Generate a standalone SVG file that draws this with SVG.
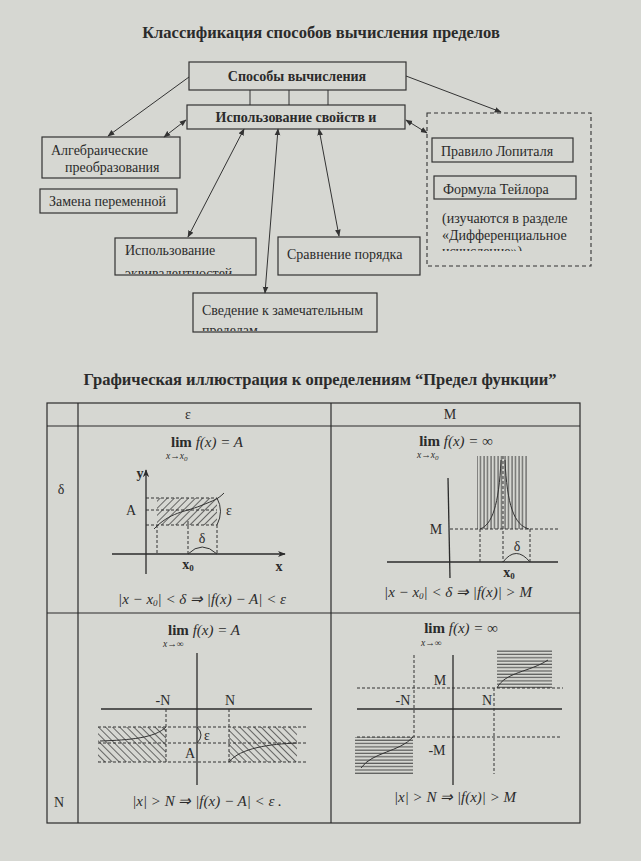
<svg xmlns="http://www.w3.org/2000/svg" width="641" height="861" viewBox="0 0 641 861">
<defs>
<style>
text{font-family:"Liberation Serif","Times New Roman",serif;fill:#2b2b2b}
.t{font-size:16.5px;font-weight:bold;text-anchor:middle}
.b{font-size:14px;font-weight:bold;text-anchor:middle}
.r{font-size:14px}
.f{font-size:15px;font-style:italic;text-anchor:middle}
.lim{font-size:15px;font-weight:bold;font-style:normal}
.sub{font-size:9.5px;font-style:italic}
.lb{font-size:14px;text-anchor:middle}
.lbb{font-size:14px;font-weight:bold;text-anchor:middle}
.box{fill:none;stroke:#333;stroke-width:1.2}
.ln{fill:none;stroke:#333;stroke-width:1}
.ax{fill:none;stroke:#2b2b2b;stroke-width:1.3}
.ds{fill:none;stroke:#333;stroke-width:1;stroke-dasharray:3,2}
.grid{fill:none;stroke:#2b2b2b;stroke-width:1.2}
</style>
<marker id="ah" viewBox="0 0 10 10" refX="9" refY="5" markerWidth="7" markerHeight="7" orient="auto-start-reverse" markerUnits="userSpaceOnUse"><path d="M0,1 L10,5 L0,9 z" fill="#333"/></marker>
<marker id="ax" viewBox="0 0 10 10" refX="9" refY="5" markerWidth="8" markerHeight="8" orient="auto" markerUnits="userSpaceOnUse"><path d="M0,1 L10,5 L0,9 L3,5 z" fill="#2b2b2b"/></marker>
<pattern id="hd1" width="5" height="5" patternUnits="userSpaceOnUse" patternTransform="rotate(45)"><line x1="0" y1="0" x2="0" y2="5" stroke="#333" stroke-width="1.4"/></pattern>
<pattern id="hd2" width="5" height="5" patternUnits="userSpaceOnUse" patternTransform="rotate(-45)"><line x1="0" y1="0" x2="0" y2="5" stroke="#333" stroke-width="1.4"/></pattern>
<pattern id="hv" width="3.5" height="10" patternUnits="userSpaceOnUse"><line x1="1" y1="0" x2="1" y2="10" stroke="#333" stroke-width="0.9"/></pattern>
<pattern id="hh" width="10" height="3.3" patternUnits="userSpaceOnUse"><line x1="0" y1="1" x2="10" y2="1" stroke="#333" stroke-width="0.9"/></pattern>
<clipPath id="c1"><rect x="115" y="238" width="141" height="36"/></clipPath>
<clipPath id="c2"><rect x="193" y="294" width="183" height="37"/></clipPath>
<clipPath id="c3"><rect x="428" y="114" width="162" height="137"/></clipPath>
</defs>
<rect x="0" y="0" width="641" height="861" fill="#d6d7d2"/>

<text class="t" x="321" y="38">Классификация способов вычисления пределов</text>

<g id="connectors">
<line class="ln" x1="250" y1="90" x2="250" y2="105"/>
<line class="ln" x1="289" y1="90" x2="289" y2="105"/>
<line class="ln" x1="328" y1="90" x2="328" y2="105"/>
<line class="ln" x1="189" y1="77" x2="108" y2="136" marker-end="url(#ah)"/>
<line class="ln" x1="186" y1="120" x2="164" y2="137" marker-start="url(#ah)" marker-end="url(#ah)"/>
<line class="ln" x1="244" y1="129" x2="188" y2="237" marker-start="url(#ah)" marker-end="url(#ah)"/>
<line class="ln" x1="278" y1="129" x2="265" y2="293" marker-start="url(#ah)" marker-end="url(#ah)"/>
<line class="ln" x1="319" y1="129" x2="339" y2="236" marker-start="url(#ah)" marker-end="url(#ah)"/>
<line class="ln" x1="406" y1="76" x2="501" y2="112" marker-end="url(#ah)"/>
<line class="ln" x1="406" y1="120" x2="427" y2="133" marker-start="url(#ah)" marker-end="url(#ah)"/>
</g>

<g id="n-methods"><rect class="box" x="189" y="62" width="217" height="28"/><text class="b" x="297" y="81">Способы вычисления</text></g>
<g id="n-props"><rect class="box" x="187" y="105" width="218" height="24"/><text class="b" x="296" y="122">Использование свойств и</text></g>
<g id="n-alg"><rect class="box" x="42" y="137" width="138" height="41"/><text class="r" x="51" y="155">Алгебраические</text><text class="r" x="65" y="172">преобразования</text></g>
<g id="n-subst"><rect class="box" x="40" y="189" width="137" height="24"/><text class="r" x="49" y="206">Замена переменной</text></g>
<g id="n-eqv"><rect class="box" x="115" y="238" width="141" height="37"/><g clip-path="url(#c1)"><text class="r" x="125" y="255">Использование</text><text class="r" x="125" y="278">эквивалентностей</text></g></g>
<g id="n-order"><rect class="box" x="278" y="237" width="142" height="38"/><text class="r" x="287" y="259">Сравнение порядка</text></g>
<g id="n-remark"><rect class="box" x="193" y="293" width="184" height="39"/><g clip-path="url(#c2)"><text class="r" x="202" y="315">Сведение к замечательным</text><text class="r" x="202" y="335">пределам</text></g></g>
<g id="n-diff"><rect x="427" y="113" width="164" height="153" fill="none" stroke="#333" stroke-width="1.1" stroke-dasharray="4,3"/>
<rect class="box" x="432" y="138" width="141" height="24"/><text class="r" x="441" y="156">Правило Лопиталя</text>
<rect class="box" x="434" y="176" width="142" height="23"/><text class="r" x="443" y="194">Формула Тейлора</text>
<g clip-path="url(#c3)"><text class="r" x="442" y="223">(изучаются в разделе</text><text class="r" x="442" y="240">«Дифференциальное</text><text class="r" x="442" y="256">исчисление»)</text></g></g>

<text class="t" x="320" y="385">Графическая иллюстрация к определениям “Предел функции”</text>

<g id="table">
<rect class="grid" x="47" y="403" width="533" height="420"/>
<line class="grid" x1="78" y1="403" x2="78" y2="823"/>
<line class="grid" x1="331" y1="403" x2="331" y2="823"/>
<line class="grid" x1="47" y1="426" x2="580" y2="426"/>
<line class="grid" x1="47" y1="613" x2="580" y2="613"/>
<text class="lb" x="188" y="419">ε</text>
<text class="lb" x="450" y="419">M</text>
<text class="lb" x="61" y="494">δ</text>
<text class="lb" x="59" y="807">N</text>
</g>

<g id="cell-eps-delta">
<text class="f" x="207" y="447"><tspan class="lim">lim</tspan> f(x) = A</text>
<text class="sub" x="166" y="459">x→x<tspan font-size="7" dy="2">0</tspan></text>
<rect x="157" y="498" width="60" height="27" fill="url(#hd1)"/>
<line class="ax" x1="146" y1="574" x2="146" y2="470" marker-end="url(#ax)"/>
<line class="ax" x1="112" y1="554" x2="285" y2="554" marker-end="url(#ax)"/>
<path class="ds" d="M146,498 H217 M146,510 H217 M146,525 H217 M157,525 V554 M188,521 V554 M217,525 V554"/>
<path class="ln" d="M154,529 C170,512 185,512 200,506 S218,499 224,493"/>
<path class="ln" d="M217,498 Q224,511 217,525"/>
<path class="ln" d="M188,554 Q202,540 217,554"/>
<text class="lbb" x="140" y="478">y</text>
<text class="lb" x="131" y="515">A</text>
<text class="lb" x="229" y="515">ε</text>
<text class="lb" x="202" y="543">δ</text>
<text class="lbb" x="188" y="569">x<tspan font-size="9" dy="2">0</tspan></text>
<text class="lbb" x="279" y="571">x</text>
<text class="f" x="202" y="604">|x − x<tspan font-size="9" dy="2">0</tspan><tspan dy="-2">| &lt; δ ⇒ |f(x) − A| &lt; ε</tspan></text>
</g>

<g id="cell-M-delta">
<text class="f" x="456" y="446"><tspan class="lim">lim</tspan> f(x) = ∞</text>
<text class="sub" x="417" y="458">x→x<tspan font-size="7" dy="2">0</tspan></text>
<rect x="477" y="456" width="51" height="73" fill="url(#hv)"/>
<line class="ax" x1="448" y1="478" x2="450" y2="578"/>
<line class="ax" x1="387" y1="562" x2="558" y2="562"/>
<path class="ds" d="M450,529 H560 M480,529 V562 M503,456 V562 M530,529 V562"/>
<path class="ln" d="M480,529 C492,525 499,505 501,460 M505,460 C507,505 514,525 529,529"/>
<path class="ln" d="M503,562 Q516,545 530,562"/>
<text class="lb" x="436" y="534">M</text>
<text class="lb" x="517" y="551">δ</text>
<text class="lbb" x="509" y="577">x<tspan font-size="9" dy="2">0</tspan></text>
<text class="f" x="458" y="597">|x − x<tspan font-size="9" dy="2">0</tspan><tspan dy="-2">| &lt; δ ⇒ |f(x)| &gt; M</tspan></text>
</g>

<g id="cell-eps-N">
<text class="f" x="204" y="635"><tspan class="lim">lim</tspan> f(x) = A</text>
<text class="sub" x="163" y="647">x→∞</text>
<rect x="98" y="727" width="68" height="35" fill="url(#hd2)"/>
<rect x="229" y="727" width="68" height="35" fill="url(#hd2)"/>
<line class="ax" x1="197" y1="653" x2="197" y2="785"/>
<line class="ax" x1="101" y1="709" x2="312" y2="709"/>
<path class="ds" d="M98,727 H307 M98,743 H307 M98,762 H307 M166,709 V762 M229,709 V762"/>
<path class="ln" d="M100,741 C130,740 155,738 166,727"/>
<path class="ln" d="M229,762 C240,748 270,744 297,743"/>
<path class="ln" d="M197,727 Q205,735 197,743"/>
<text class="lb" x="163" y="705">-N</text>
<text class="lb" x="230" y="705">N</text>
<text class="lb" x="207" y="740">ε</text>
<text class="lb" x="190" y="758">A</text>
<text class="f" x="207" y="806">|x| &gt; N ⇒ |f(x) − A| &lt; ε .</text>
</g>

<g id="cell-M-N">
<text class="f" x="461" y="633"><tspan class="lim">lim</tspan> f(x) = ∞</text>
<text class="sub" x="421" y="646">x→∞</text>
<rect x="497" y="649" width="55" height="39" fill="url(#hh)"/>
<rect x="355" y="737" width="58" height="38" fill="url(#hh)"/>
<line class="ax" x1="453" y1="655" x2="453" y2="785"/>
<line class="ax" x1="357" y1="709" x2="562" y2="709"/>
<path class="ds" d="M357,688 H563 M357,737 H560 M414,655 V737 M494,688 V774"/>
<path class="ln" d="M497,688 C505,672 530,672 548,660"/>
<path class="ln" d="M361,768 C372,752 400,752 413,737"/>
<text class="lb" x="440" y="685">M</text>
<text class="lb" x="403" y="705">-N</text>
<text class="lb" x="487" y="705">N</text>
<text class="lb" x="437" y="755">-M</text>
<text class="f" x="455" y="802">|x| &gt; N ⇒ |f(x)| &gt; M</text>
</g>
</svg>
